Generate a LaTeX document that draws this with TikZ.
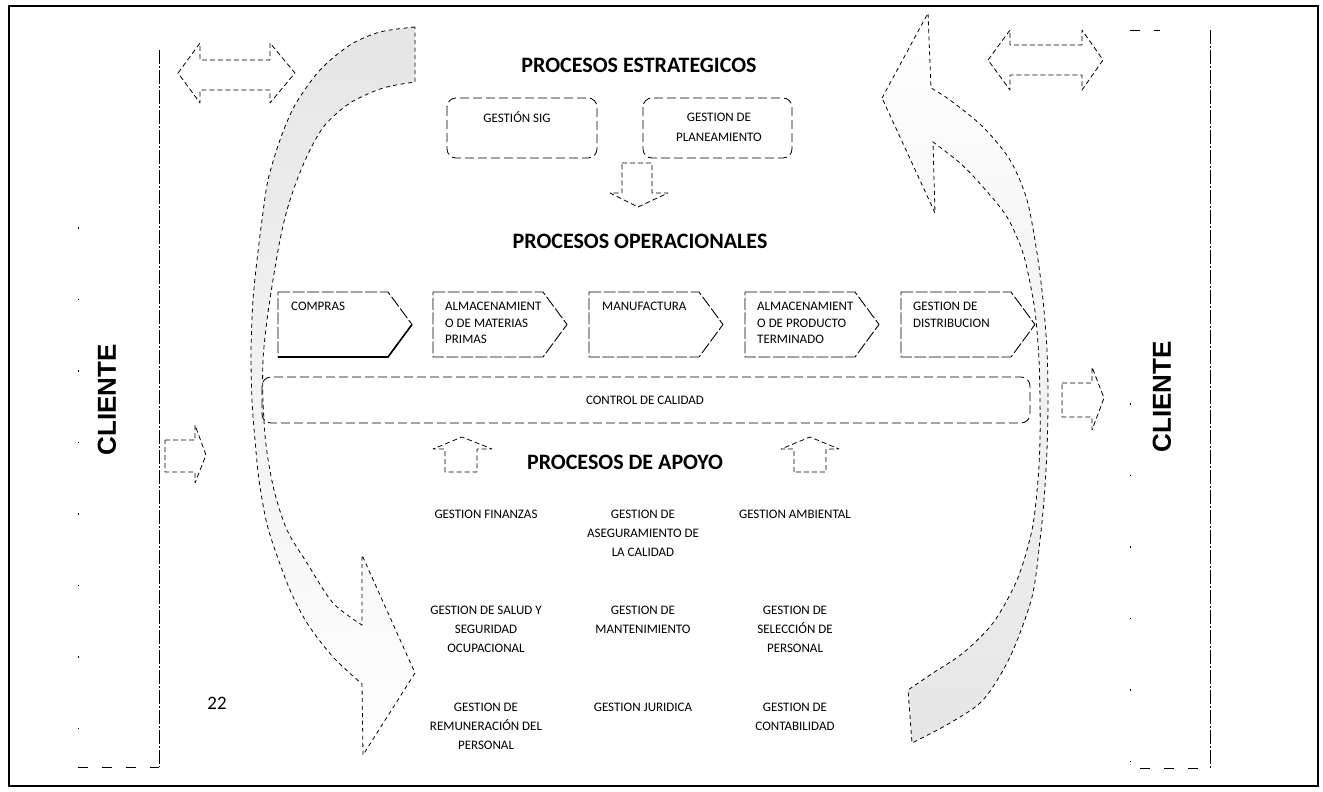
\documentclass[tikz,border=0pt]{standalone}
\usepackage{fontspec}
\setmainfont{Carlito}
\newfontfamily\clientefont{Liberation Sans}
\begin{document}
\begin{tikzpicture}[x=1pt,y=-1pt,
  frameline/.style={line width=2pt},
  sepline/.style={line width=0.7pt, dash pattern=on 14pt off 2pt on 2pt off 2pt},
  sparseline/.style={line width=0.7pt, dash pattern=on 1.5pt off 70pt},
  baseline/.style={line width=0.8pt, dash pattern=on 10pt off 14pt},
  band/.style={line width=0.8pt, dash pattern=on 4pt off 3.5pt},
  blockarrow/.style={line width=0.8pt, dash pattern=on 5pt off 3pt, line join=round},
  roundbox/.style={line width=0.8pt, dash pattern=on 9pt off 4pt, rounded corners=9pt},
  chevron/.style={line width=0.9pt, dash pattern=on 12pt off 2.5pt, line join=round},
  title/.style={font=\fontsize{22}{26}\selectfont\bfseries, inner sep=0pt},
  client/.style={font=\fontsize{26}{30}\selectfont\clientefont\bfseries, rotate=90, inner sep=0pt},
  small/.style={font=\fontsize{13}{19}\selectfont, align=center, inner sep=0pt},
  steptext/.style={font=\fontsize{13}{16.5}\selectfont, align=left, anchor=north west, inner sep=0pt},
]
\useasboundingbox (0,0) rectangle (1323,792);

% outer frame
\draw[frameline] (9,6) rectangle (1318,786);

% customer panels
\draw[sepline] (159,50) -- (159,767);
\draw[sparseline] (78,227) -- (78,767);
\draw[baseline] (78,767) -- (159,767);
\draw[sepline] (1210,30) -- (1210,768);
\draw[sparseline] (1130,403) -- (1130,768);
\draw[baseline] (1130,30) -- (1160,30);
\draw[baseline] (1140,768) -- (1210,768);
\node[client] (clientL) at (107,400) {CLIENTE};
\node[client] (clientR) at (1162,397) {CLIENTE};

% two-way arrows at the top corners
\draw[blockarrow] (178,73) -- (200,43) -- (200,60) -- (270,60) -- (270,43) -- (295,73)
  -- (270,103) -- (270,90) -- (200,90) -- (200,103) -- cycle;
\draw[blockarrow] (988,60) -- (1010,30) -- (1010,45) -- (1082,45) -- (1082,30) -- (1103,60)
  -- (1082,90) -- (1082,75) -- (1010,75) -- (1010,90) -- cycle;

% left curved arrow, running down
\shade[top color=black!10, middle color=white, bottom color=white]
  (415,27) -- plot[smooth] coordinates {(415,27) (380,32) (350,45) (320,70) (295,105) (280,140)
    (268,180) (262,220) (257,260) (253,300) (251,350) (252,400) (255,440) (259,480)
    (266,520) (275,550) (290,590) (307,623) (333,657) (362,684)}
  -- (363,755) -- (415,673) -- (362,555) -- (362,625)
  -- plot[smooth] coordinates {(362,625) (333,603) (307,563) (287,530) (274,490) (266,445)
    (263,400) (263,360) (267,320) (273,280) (280,240) (287,210) (297,180) (310,150)
    (325,125) (350,103) (383,88) (415,82)} -- cycle;
\draw[band]
  (415,27) -- plot[smooth] coordinates {(415,27) (380,32) (350,45) (320,70) (295,105) (280,140)
    (268,180) (262,220) (257,260) (253,300) (251,350) (252,400) (255,440) (259,480)
    (266,520) (275,550) (290,590) (307,623) (333,657) (362,684)}
  -- (363,755) -- (415,673) -- (362,555) -- (362,625)
  -- plot[smooth] coordinates {(362,625) (333,603) (307,563) (287,530) (274,490) (266,445)
    (263,400) (263,360) (267,320) (273,280) (280,240) (287,210) (297,180) (310,150)
    (325,125) (350,103) (383,88) (415,82)} -- cycle;

% right curved arrow, running up
\shade[top color=white, middle color=white, bottom color=black!10]
  (882,98) -- (928,13) -- (931,88)
  -- plot[smooth] coordinates {(931,88) (950,100) (983,127) (1010,160) (1027,200) (1037,253)
    (1043,300) (1047,350) (1048,400) (1047,450) (1044,500) (1040,540) (1032,597)
    (1010,657) (983,700) (950,723) (912,743)}
  -- (908,690)
  -- plot[smooth] coordinates {(908,690) (933,673) (963,653) (993,623) (1017,580) (1032,530)
    (1038,480) (1040,440) (1040,400) (1039,360) (1036,320) (1032,293) (1023,253)
    (1007,217) (983,187) (960,163) (933,142)}
  -- (935,213) -- cycle;
\draw[band]
  (882,98) -- (928,13) -- (931,88)
  -- plot[smooth] coordinates {(931,88) (950,100) (983,127) (1010,160) (1027,200) (1037,253)
    (1043,300) (1047,350) (1048,400) (1047,450) (1044,500) (1040,540) (1032,597)
    (1010,657) (983,700) (950,723) (912,743)}
  -- (908,690)
  -- plot[smooth] coordinates {(908,690) (933,673) (963,653) (993,623) (1017,580) (1032,530)
    (1038,480) (1040,440) (1040,400) (1039,360) (1036,320) (1032,293) (1023,253)
    (1007,217) (983,187) (960,163) (933,142)}
  -- (935,213) -- cycle;

% strategic processes
\node[title] (estr) at (639,65) {PROCESOS ESTRATEGICOS};
\draw[roundbox] (447,98) rectangle (597,158);
\node[small] (sig) at (517,117) {GESTIÓN SIG};
\draw[roundbox] (643,98) rectangle (792,158);
\node[small, font=\fontsize{13}{20}\selectfont] (plan) at (719,127) {GESTION DE\\PLANEAMIENTO};
\draw[blockarrow] (622,163) -- (652,163) -- (652,193) -- (668,193) -- (638,207)
  -- (610,193) -- (622,193) -- cycle;

% operational processes
\node[title] (oper) at (640,241) {PROCESOS OPERACIONALES};
\foreach \x in {278,433,589,745,901}{
  \draw[chevron] (\x,292) -- (\x+110,292) -- (\x+134,324.5) -- (\x+110,357) -- (\x,357) -- cycle;
}
\draw[line width=1.6pt] (278,357) -- (388,357) -- (412,324.5);
\node[steptext] (compras) at (291,302) {COMPRAS};
\node[steptext] (almmp) at (445,302) {ALMACENAMIENT\\O DE MATERIAS\\PRIMAS};
\node[steptext] (manuf) at (602,302) {MANUFACTURA};
\node[steptext] (almpt) at (757,302) {ALMACENAMIENT\\O DE PRODUCTO\\TERMINADO};
\node[steptext] (distr) at (913,302) {GESTION DE\\DISTRIBUCION};

\draw[roundbox] (262,377) rectangle (1030,423);
\node[small] (calidad) at (645,400) {CONTROL DE CALIDAD};

% side arrows of the quality band
\draw[blockarrow] (165,440) -- (195,440) -- (195,425) -- (206,455) -- (195,483) -- (195,472)
  -- (165,472) -- cycle;
\draw[blockarrow] (1062,383) -- (1092,383) -- (1092,367) -- (1104,398) -- (1092,430)
  -- (1092,417) -- (1062,417) -- cycle;

% support processes
\draw[blockarrow] (445,472) -- (445,449) -- (433,449) -- (462,437) -- (492,449) -- (477,449)
  -- (477,472) -- cycle;
\draw[blockarrow] (794,472) -- (794,449) -- (781,449) -- (810,437) -- (839,449) -- (826,449)
  -- (826,472) -- cycle;
\node[title] (apoyo) at (625,462) {PROCESOS DE APOYO};

\node[small, anchor=north] (fin) at (486,510) {GESTION FINANZAS};
\node[small, anchor=north] (aseg) at (643,510) {GESTION DE\\ASEGURAMIENTO DE\\LA CALIDAD};
\node[small, anchor=north] (amb) at (795,510) {GESTION AMBIENTAL};
\node[small, anchor=north] (salud) at (486,606) {GESTION DE SALUD Y\\SEGURIDAD\\OCUPACIONAL};
\node[small, anchor=north] (mant) at (643,606) {GESTION DE\\MANTENIMIENTO};
\node[small, anchor=north] (selec) at (795,606) {GESTION DE\\SELECCIÓN DE\\PERSONAL};
\node[small, anchor=north] (remu) at (486,703) {GESTION DE\\REMUNERACIÓN DEL\\PERSONAL};
\node[small, anchor=north] (jur) at (643,703) {GESTION JURIDICA};
\node[small, anchor=north] (conta) at (795,703) {GESTION DE\\CONTABILIDAD};

\node[font=\fontsize{19}{22}\selectfont, inner sep=0pt] (page) at (217,703) {22};
\end{tikzpicture}
\end{document}
